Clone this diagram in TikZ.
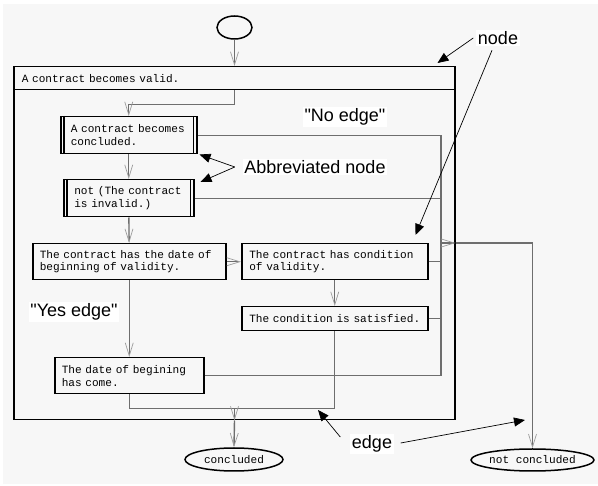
\documentclass[tikz,border=0pt]{standalone}
\usepackage{fontspec}
\setmainfont{Liberation Sans}
\newfontfamily\monofont{Liberation Mono}
\usetikzlibrary{arrows.meta,shapes.geometric,calc}

\definecolor{edgegray}{HTML}{6E6E6E}
\definecolor{tipgray}{HTML}{9C9C9C}
\definecolor{paper}{HTML}{F7F7F7}

\tikzset{
  state/.style={draw, line width=1.5pt, anchor=north west, inner ysep=2pt,
    align=left, font=\monofont\fontsize{11.1}{12.6}\selectfont},
  terminal/.style={draw, ellipse, line width=1.5pt, inner sep=0pt,
    font=\monofont\fontsize{11.1}{12.6}\selectfont},
  flow/.style={draw=edgegray, line width=1.4pt},
  flowarrow/.style={flow,
    -{Straight Barb[length=13pt,width=8pt,line width=0.7pt,color=tipgray]}},
  note/.style={fill=white, inner sep=1.5pt, font=\fontsize{18}{20}\selectfont},
  pointer/.style={line width=0.7pt, -{Triangle[length=11pt,width=9pt]}},
}

\begin{document}
\begin{tikzpicture}[x=1pt,y=-1pt]
  \useasboundingbox (0,0) rectangle (598,486);
  \fill[white] (0,0) rectangle (598,486);
  \fill[paper] (3,4) rectangle (598,484);

  \node[terminal, minimum width=35, minimum height=23] (start) at (234.5,27.5) {};

  % the frame and its header
  \node[draw, line width=1.5pt, anchor=north west, minimum width=441,
    minimum height=353] (phase) at (13,66) {};
  \node[state, inner xsep=8pt, text width=425, minimum height=23] (valid) at (13,66)
    {A contract becomes valid.};

  \foreach \n/\x/\y/\w/\h/\pad/\txt in {
    concl/60/116/136/37/10/{A contract becomes\\concluded.},
    invalid/63/179/130/37/10.5/{not (The contract\\is invalid.)},
    hasdate/32/243/193/36/7/{The contract has the date of\\beginning of validity.},
    hascond/241/243/186/36/7.5/{The contract has condition\\of validity.},
    satisfied/241/306/186/24/7.5/{The condition is satisfied.},
    datecome/54/357/149/36/7/{The date of begining\\has come.}}{
    \pgfmathsetmacro\tw{\w-2*\pad}
    \node[state, inner xsep=\pad pt, text width=\tw pt, minimum height=\h] (\n) at (\x,\y) {\txt};
  }
  \foreach \n in {concl,invalid}{
    \draw[line width=1.5pt] ([xshift=4]\n.north west) -- ([xshift=4]\n.south west);
    \draw[line width=1.5pt] ([xshift=-4]\n.north east) -- ([xshift=-4]\n.south east);
  }

  \node[terminal, minimum width=98, minimum height=23] (yes) at (234,459.5) {concluded};
  \node[terminal, minimum width=123, minimum height=22] (no) at (532.5,460) {not concluded};

  \draw[flowarrow] (start) -- (start |- phase.north);
  \draw[flowarrow] (valid.south -| start) -- ++(0,14) -| (concl.north);
  \draw[flowarrow] (concl) -- (invalid);
  \draw[flowarrow] (invalid) -- (hasdate);
  \draw[flowarrow] (hasdate) -- (hascond);
  \draw[flowarrow] (hascond) -- (satisfied);
  \draw[flowarrow] (hasdate) -- (datecome);

  \coordinate (merge) at ($(datecome.south)+(0,14)$);
  \draw[flow] (datecome.south) -- (merge) -| (satisfied.south);
  \draw[flowarrow] (merge -| start) -- (start |- phase.south);
  \draw[flowarrow] (start |- phase.south) -- (yes.north);

  \coordinate (bus) at (441,243);
  \foreach \n in {concl,invalid,hascond,satisfied,datecome}
    \draw[flow] (\n.east) -- (\n.east -| bus);
  \draw[flow] (concl.east -| bus) -- (datecome.east -| bus);
  \draw[flowarrow] (bus) -- (bus -| phase.east);
  \draw[flowarrow] (bus -| phase.east) -| (no.north);

  % call-outs
  \node[note] (nodelbl) at (498,38) {node};
  \node[note] (abbr) at (315,167) {Abbreviated node};
  \node[note] (nolbl) at (345,117) {\textquotedbl No edge\textquotedbl};
  \node[note] (yeslbl) at (74,312) {\textquotedbl Yes edge\textquotedbl};
  \node[note] (edgelbl) at (372,444) {edge};

  \coordinate (intip) at (318,410);
  \coordinate (outtip) at (525,420);
  \draw[pointer] ([xshift=-3]nodelbl.west) -- ([shift={(-18,-3)}]phase.north east);
  \draw[pointer] ([shift={(-6,4)}]nodelbl.south) -- ([shift={(-13,-8)}]hascond.north east);
  \draw[pointer] ([xshift=-8]abbr.west) -- ([xshift=2]concl.south east);
  \draw[pointer] ([xshift=-8]abbr.west) -- ([shift={(6,3)}]invalid.north east);
  \draw[pointer] ([shift={(-10,-7)}]edgelbl.west) -- (intip);
  \draw[pointer] ([shift={(7,-1)}]edgelbl.east) -- (outtip);
\end{tikzpicture}
\end{document}
